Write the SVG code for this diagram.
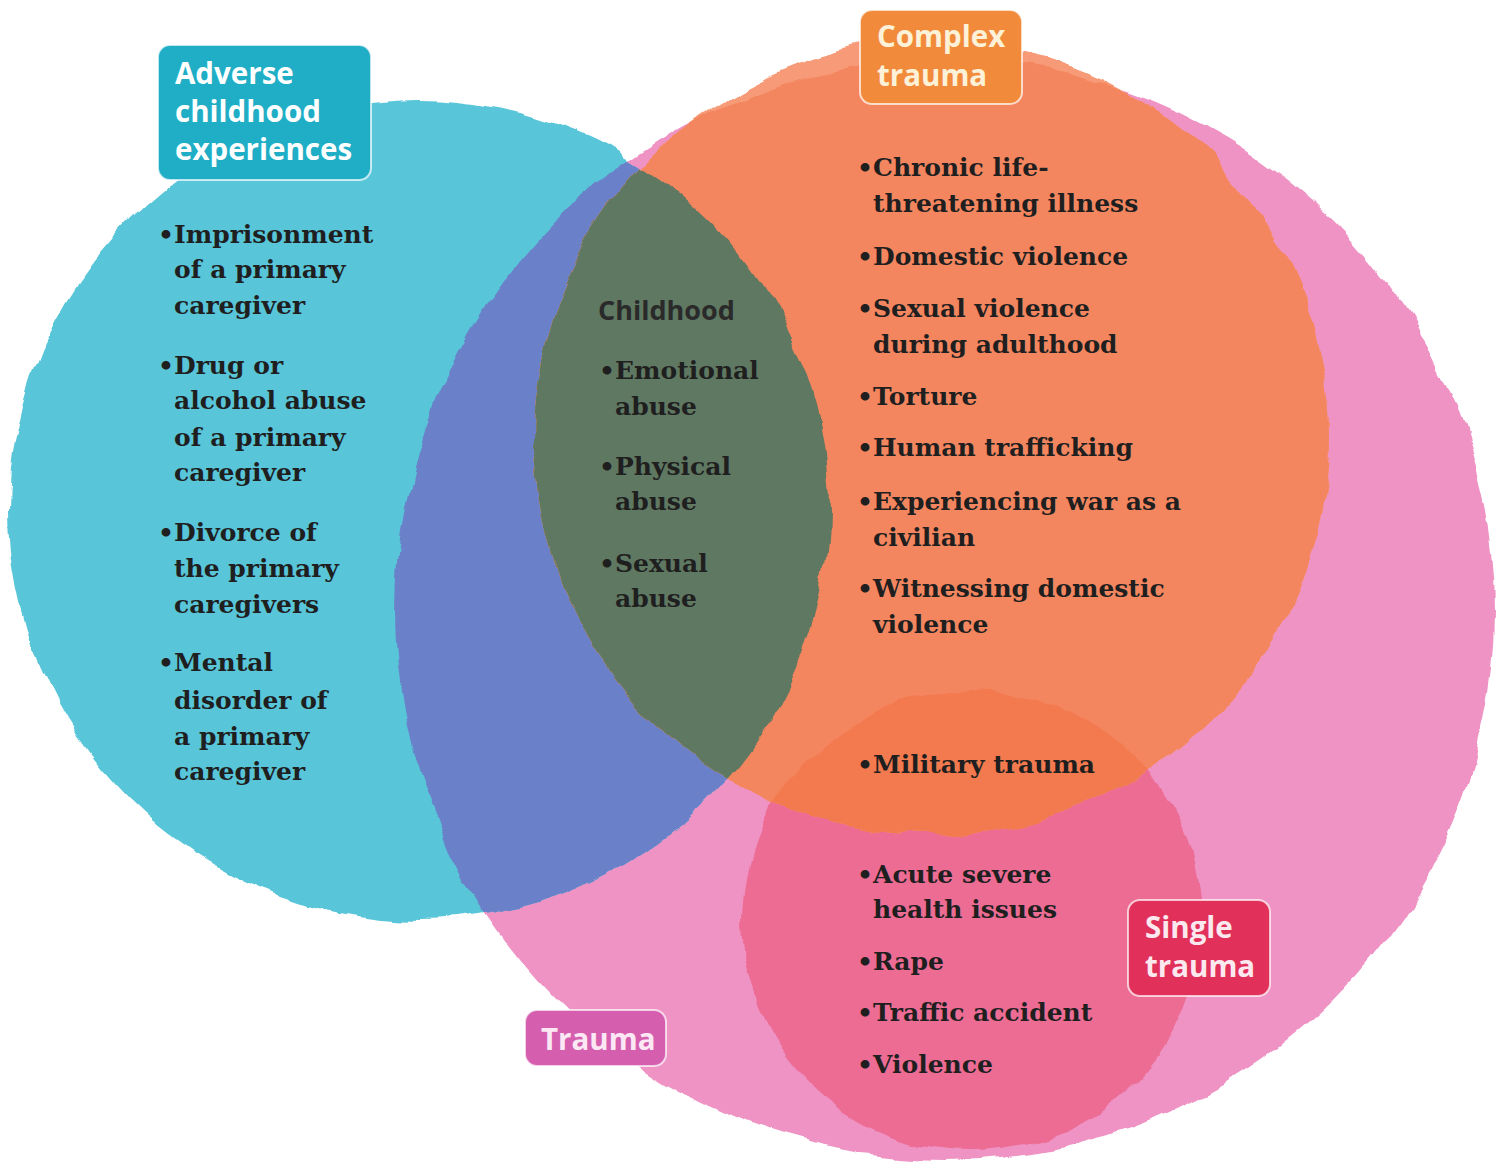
<svg xmlns="http://www.w3.org/2000/svg" width="1498" height="1163" viewBox="0 0 1498 1163">
<style>
.body{font-family:"DejaVu Serif","Liberation Serif",serif;font-weight:bold;font-size:25px;fill:#1f1f1f}
.lbl{font-family:"Open Sans","Noto Sans","Liberation Sans",sans-serif;font-weight:700;font-size:29.5px}
.box{stroke:#ffffff;stroke-opacity:0.7;stroke-width:2}
</style>
<defs>
<clipPath id="clipPink"><circle cx="945" cy="610" r="550"/></clipPath>
<clipPath id="clipCyan"><circle cx="419" cy="510" r="410"/></clipPath>
<clipPath id="clipSingle"><circle cx="972" cy="920" r="230"/></clipPath>
<filter id="wc" x="-5%" y="-5%" width="110%" height="110%">
<feTurbulence type="fractalNoise" baseFrequency="0.018" numOctaves="3" seed="4" result="n"/>
<feDisplacementMap in="SourceGraphic" in2="n" scale="16" xChannelSelector="R" yChannelSelector="G"/>
</filter>
</defs>
<rect width="1498" height="1163" fill="#ffffff"/>
<g id="circles" filter="url(#wc)">
<circle id="trauma-circle" cx="945" cy="610" r="550" fill="#ee93c4"/>
<circle id="single-circle" cx="972" cy="920" r="230" fill="#ec6c94"/>
<circle id="ace-circle" cx="419" cy="510" r="410" fill="#58c5d9"/>
<circle cx="419" cy="510" r="410" fill="#6a80c8" clip-path="url(#clipPink)"/>
<circle id="complex-circle" cx="932" cy="438" r="397" fill="#f69a78"/>
<circle cx="932" cy="438" r="397" fill="#f4865f" clip-path="url(#clipPink)"/>
<circle cx="932" cy="438" r="397" fill="#f37a50" clip-path="url(#clipSingle)"/>
<circle cx="932" cy="438" r="397" fill="#5e7862" clip-path="url(#clipCyan)"/>
</g>
<g id="connectors"/>
<g id="ace">
<rect class="box" x="158" y="45" width="213" height="135" rx="12" fill="#20aec6"/>
<text class="lbl" fill="#ffffff"><tspan x="175" y="84">Adverse</tspan><tspan x="175" y="122">childhood</tspan><tspan x="175" y="160">experiences</tspan></text>
<text class="body"><tspan x="158" y="243">•</tspan><tspan x="174" y="243">Imprisonment</tspan><tspan x="174" y="278">of a primary</tspan><tspan x="174" y="314">caregiver</tspan>
<tspan x="158" y="374">•</tspan><tspan x="174" y="374">Drug or</tspan><tspan x="174" y="409">alcohol abuse</tspan><tspan x="174" y="446">of a primary</tspan><tspan x="174" y="481">caregiver</tspan>
<tspan x="158" y="541">•</tspan><tspan x="174" y="541">Divorce of</tspan><tspan x="174" y="577">the primary</tspan><tspan x="174" y="613">caregivers</tspan>
<tspan x="158" y="671">•</tspan><tspan x="174" y="671">Mental</tspan><tspan x="174" y="709">disorder of</tspan><tspan x="174" y="745">a primary</tspan><tspan x="174" y="780">caregiver</tspan></text>
</g>
<g id="childhood">
<text x="598" y="320" font-family="Open Sans, Noto Sans, sans-serif" font-weight="700" font-size="27" fill="#2a2a2a">Childhood</text>
<text class="body"><tspan x="599" y="379">•</tspan><tspan x="615" y="379">Emotional</tspan><tspan x="615" y="415">abuse</tspan>
<tspan x="599" y="475">•</tspan><tspan x="615" y="475">Physical</tspan><tspan x="615" y="510">abuse</tspan>
<tspan x="599" y="572">•</tspan><tspan x="615" y="572">Sexual</tspan><tspan x="615" y="607">abuse</tspan></text>
</g>
<g id="complex">
<rect class="box" x="860" y="10" width="162" height="94" rx="12" fill="#f28a3c"/>
<text class="lbl" fill="#fdf1d8"><tspan x="877" y="47">Complex</tspan><tspan x="877" y="86">trauma</tspan></text>
<text class="body"><tspan x="857" y="176">•</tspan><tspan x="873" y="176">Chronic life-</tspan><tspan x="873" y="212">threatening illness</tspan>
<tspan x="857" y="265">•</tspan><tspan x="873" y="265">Domestic violence</tspan>
<tspan x="857" y="317">•</tspan><tspan x="873" y="317">Sexual violence</tspan><tspan x="873" y="353">during adulthood</tspan>
<tspan x="857" y="405">•</tspan><tspan x="873" y="405">Torture</tspan>
<tspan x="857" y="456">•</tspan><tspan x="873" y="456">Human trafficking</tspan>
<tspan x="857" y="510">•</tspan><tspan x="873" y="510">Experiencing war as a</tspan><tspan x="873" y="546">civilian</tspan>
<tspan x="857" y="597">•</tspan><tspan x="873" y="597">Witnessing domestic</tspan><tspan x="873" y="633">violence</tspan>
<tspan x="857" y="773">•</tspan><tspan x="873" y="773">Military trauma</tspan></text>
</g>
<g id="single">
<rect class="box" x="1128" y="900" width="142" height="96" rx="12" fill="#e1315a"/>
<text class="lbl" fill="#fbe9ef"><tspan x="1145" y="938">Single</tspan><tspan x="1145" y="977">trauma</tspan></text>
<text class="body"><tspan x="857" y="883">•</tspan><tspan x="873" y="883">Acute severe</tspan><tspan x="873" y="918">health issues</tspan>
<tspan x="857" y="970">•</tspan><tspan x="873" y="970">Rape</tspan>
<tspan x="857" y="1021">•</tspan><tspan x="873" y="1021">Traffic accident</tspan>
<tspan x="857" y="1073">•</tspan><tspan x="873" y="1073">Violence</tspan></text>
</g>
<g id="trauma">
<rect class="box" x="525" y="1010" width="141" height="56" rx="12" fill="#d55fae"/>
<text class="lbl" fill="#fbe8f4" x="541" y="1050">Trauma</text>
</g>
</svg>
